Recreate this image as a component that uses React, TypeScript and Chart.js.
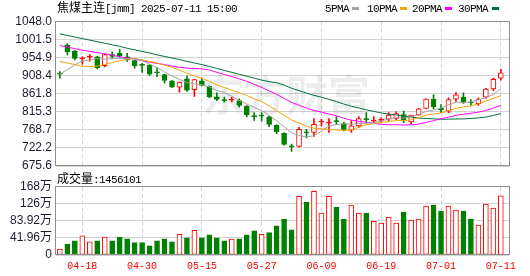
import React, { useEffect, useRef } from 'react';
import { Chart, registerables } from 'chart.js';

Chart.register(...registerables);

// ---------- data ----------
const dates = [
  '04-15', '04-16', '04-17', '04-18', '04-21', '04-22', '04-23', '04-24', '04-25', '04-28', '04-29', '04-30',
  '05-06', '05-07', '05-08', '05-09', '05-12', '05-13', '05-14', '05-15', '05-16', '05-19', '05-20', '05-21',
  '05-22', '05-23', '05-26', '05-27', '05-28', '05-29', '05-30',
  '06-03', '06-04', '06-05', '06-06', '06-09', '06-10', '06-11', '06-12', '06-13', '06-16', '06-17', '06-18',
  '06-19', '06-20', '06-23', '06-24', '06-25', '06-26', '06-27', '06-30',
  '07-01', '07-02', '07-03', '07-04', '07-07', '07-08', '07-09', '07-10', '07-11',
];

const opens = [
  912, 987, 972, 952, 956, 957, 934, 963, 966, 957, 947, 937, 936, 918, 911, 895, 879, 900, 872, 895,
  881, 854, 846, 845, 844, 830, 805, 804, 802, 781, 760, 727, 726, 763, 762, 789, 786, 792, 785, 768,
  779, 797, 791, 793, 796, 798, 808, 789, 807, 824, 848, 825, 817, 848, 853, 839, 836, 853, 874, 902,
];
const highs = [
  919, 991, 974, 957, 963, 958, 965, 970, 976, 966, 948, 940, 937, 928, 912, 896, 892, 908, 899, 902,
  882, 864, 853, 853, 849, 831, 813, 813, 804, 782, 761, 732, 775, 770, 798, 796, 798, 803, 789, 792,
  803, 813, 803, 800, 813, 815, 817, 807, 824, 849, 859, 834, 851, 865, 864, 847, 851, 876, 902, 925,
];
const lows = [
  902, 962, 949, 938, 946, 926, 931, 953, 955, 945, 928, 917, 909, 906, 889, 878, 866, 868, 855, 882,
  852, 844, 840, 841, 827, 802, 793, 792, 777, 759, 729, 713, 724, 748, 752, 779, 762, 783, 766, 762,
  775, 786, 786, 787, 792, 795, 787, 785, 806, 823, 823, 813, 813, 842, 837, 832, 832, 850, 870, 897,
];
const closes = [
  912, 970, 953, 953, 957, 929, 963, 958, 960, 949, 934, 935, 912, 916, 896, 879, 892, 871, 898, 883,
  854, 847, 844, 847, 832, 807, 803, 804, 783, 764, 731, 725, 770, 761, 783, 790, 788, 790, 770, 779,
  798, 795, 792, 794, 807, 811, 793, 807, 823, 848, 828, 820, 847, 859, 841, 838, 847, 874, 899, 916,
];

// volume in 万 (10k lots)
const volumes = [
  14.6, 26.8, 34.9, 47.0, 32.4, 34.9, 43.8, 34.9, 43.8, 39.7, 30.8, 30.8, 22.7, 34.9, 39.7, 32.4, 51.1, 42.2, 60.8, 42.2,
  49.5, 42.2, 34.9, 38.9, 39.7, 49.5, 59.2, 51.1, 55.1, 71.4, 88.4, 61.6, 144.4, 129.8, 156.5, 103.0, 144.4, 117.6, 88.4, 122.5,
  103.0, 103.0, 82.7, 78.7, 93.3, 78.7, 105.4, 86.0, 88.4, 120.0, 122.5, 107.9, 120.0, 110.3, 107.9, 88.4, 73.8, 124.9, 115.2, 145.61,
];

const ma5 = [
  913, 924, 936, 946, 949, 952.4, 951, 952, 953.4, 951.8, 952.8, 947.2, 938, 929.2, 918.6, 907.6, 899, 890.8, 887.2, 884.6,
  879.6, 870.6, 865.2, 855, 844.8, 835.4, 826.6, 818.6, 805.8, 792.2, 777, 761.4, 754.6, 750.2, 754, 765.8, 778.4, 782.4, 784.2, 783.4,
  785, 786.4, 786.8, 791.6, 797.2, 799.8, 799.4, 802.4, 808.2, 816.4, 819.8, 825.2, 833.2, 840.4, 839, 841, 846.4, 851.8, 859.8, 874.8,
];
const ma10 = [
  945, 941, 937, 933, 932, 933, 937, 942, 947, 950.4, 952.6, 949.1, 945, 941.3, 935.2, 930.2, 923.1, 914.4, 908.2, 901.6,
  893.6, 884.8, 878, 871.1, 864.7, 857.5, 848.6, 841.9, 830.4, 818.5, 806.2, 794, 786.6, 778, 773.1, 771.4, 769.9, 768.5, 767.2, 768.7,
  775.4, 782.4, 784.6, 787.9, 790.3, 792.4, 792.9, 794.6, 799.9, 806.8, 809.8, 812.3, 817.8, 824.3, 827.7, 830.4, 835.8, 842.5, 850.1, 856.9,
];
const ma20 = [
  986, 982, 978, 974, 971, 968, 965, 961, 957, 954, 951, 947, 943, 940, 937, 933, 930, 928, 927, 926,
  923.1, 917, 911.5, 906.2, 900, 893.9, 885.9, 878.2, 869.3, 860.1, 849.9, 839.4, 832.3, 824.6, 818.9, 814.5, 809.3, 805.2, 798.8, 793.6,
  790.8, 788.2, 785.6, 783, 781.7, 781.9, 781.4, 781.6, 783.6, 787.8, 792.6, 797.4, 801.2, 806.1, 809, 811.4, 814.4, 818.6, 825, 831.9,
];
const ma30 = [
  1016, 1012, 1008, 1004, 1000, 996, 992, 988, 984, 979, 975, 971, 967, 962, 958, 954, 950, 945, 941, 937,
  932, 927, 922, 917, 912, 907, 902, 897, 893, 890.2, 884.1, 876, 869.9, 863.5, 857.7, 853, 847.2, 841.6, 835.3, 829.6,
  825.1, 820.4, 816.4, 812.3, 809.4, 807.1, 803.8, 801.7, 799.2, 798, 797.1, 796.2, 796.3, 796.7, 797, 798.1, 799.5, 801.9, 805.7, 810.8,
];

const priceTicks = [675.6, 722.2, 768.7, 815.3, 861.8, 908.4, 954.9, 1001.5, 1048.0];
const volumeTicks = [0, 41.96, 83.92, 125.88, 167.84];
const volumeTickLabels = ['0', '41.96万', '83.92万', '126万', '168万'];
const dateTickIndex = [3, 11, 19, 27, 35, 43, 51, 59];

const titleName = '焦煤主连';
const titleInfo = '[jmm] 2025-07-11 15:00';
const volumeName = '成交量';
const volumeLatest = '1456101';
const legendNames = ['5PMA', '10PMA', '20PMA', '30PMA'];
const watermarkText = '东方财富';

// ---------- style ----------
const UP = '#ff0000';
const DOWN = '#008000';
const MA_COLORS = ['#a3a3a3', '#f7a400', '#ff00ff', '#00703a'];
const GRID = '#d2d2d2';
const FRAME = '#8e8e8e';
const MONO = '"Liberation Mono", "DejaVu Sans Mono", monospace';
const CJK = '"Noto Sans CJK SC", sans-serif';
const SANS = '"Liberation Sans", Arial, "Noto Sans CJK SC", sans-serif';
const X_MIN = -0.522;
const X_MAX = 60.097;

const isUp = (i: number) => closes[i] > opens[i];
const volUp = (i: number) => closes[i] >= opens[i];

const framePlugin = {
  id: 'frame',
  afterDraw(chart: any) {
    const { ctx, chartArea: a } = chart;
    ctx.save();
    ctx.strokeStyle = FRAME;
    ctx.lineWidth = 1;
    const l = Math.round(a.left) - 0.5;
    const t = Math.round(a.top) - 0.5;
    const r = Math.round(a.right) + 0.5;
    const b = Math.round(a.bottom) - 0.5;
    ctx.strokeRect(l, t, r - l, b - t);
    ctx.restore();
  },
};

const watermarkPlugin = {
  id: 'watermark',
  beforeDatasetsDraw(chart: any) {
    const { ctx } = chart;
    ctx.save();
    ctx.font = 'bold 42px "Noto Sans CJK SC"';
    ctx.fillStyle = 'rgba(0,0,0,0.07)';
    ctx.textAlign = 'center';
    ctx.textBaseline = 'middle';
    ctx.fillText(watermarkText, 286, 95);
    ctx.restore();
  },
};

const setDateTicks = (s: any) => {
  s.ticks = dateTickIndex.map((v) => ({ value: v }));
};

export default function App() {
  const priceRef = useRef<HTMLCanvasElement>(null);
  const volRef = useRef<HTMLCanvasElement>(null);

  useEffect(() => {
    const maData = [ma5, ma10, ma20, ma30];
    const lineSets = maData.map((arr, k) => ({
      type: 'line' as const,
      label: legendNames[k],
      data: arr.map((v, i) => ({ x: i, y: v })),
      borderColor: MA_COLORS[k],
      borderWidth: 1,
      pointRadius: 0,
      tension: 0,
      order: 0,
    }));

    const bodySet: any = {
      type: 'bar',
      label: 'body',
      data: opens.map((o, i) => ({ x: i, y: [o, closes[i]] })),
      backgroundColor: (c: any) => {
        const i = c.dataIndex;
        if (!isUp(i)) return DOWN;
        return Math.abs(closes[i] - opens[i]) < 3 ? UP : '#ffffff';
      },
      borderColor: (c: any) => (isUp(c.dataIndex) ? UP : DOWN),
      borderWidth: 1,
      borderSkipped: false,
      barThickness: 5,
      minBarLength: 1,
      grouped: false,
      order: 1,
    };
    const wickSet: any = {
      type: 'bar',
      label: 'wick',
      data: lows.map((l, i) => ({ x: i, y: [l, highs[i]] })),
      backgroundColor: (c: any) => (isUp(c.dataIndex) ? UP : DOWN),
      borderWidth: 0,
      barThickness: 1,
      grouped: false,
      order: 2,
    };

    const priceChart = new Chart(priceRef.current as HTMLCanvasElement, {
      type: 'bar',
      data: { datasets: [...lineSets, bodySet, wickSet] as any },
      options: {
        responsive: false,
        animation: false,
        events: [],
        layout: { padding: { top: 21.5, bottom: 110, left: 0, right: 21 } },
        plugins: { legend: { display: false }, tooltip: { enabled: false } },
        scales: {
          x: {
            type: 'linear',
            min: X_MIN,
            max: X_MAX,
            offset: false,
            afterBuildTicks: setDateTicks,
            afterFit: (s: any) => {
              s.height = 0;
            },
            ticks: { display: false },
            grid: { color: GRID, drawTicks: false, offset: false, lineWidth: 1 },
            border: { display: false, dash: [4, 3] },
          },
          y: {
            type: 'linear',
            min: 675.6,
            max: 1048.0,
            afterBuildTicks: (s: any) => {
              s.ticks = priceTicks.map((v) => ({ value: v }));
            },
            afterFit: (s: any) => {
              s.width = 56;
            },
            ticks: {
              callback: (v: any) => Number(v).toFixed(1),
              color: '#1c1c30',
              font: { family: SANS, size: 12 },
              padding: 4,
              autoSkip: false,
            },
            grid: { color: GRID, drawTicks: false, lineWidth: 1 },
            border: { display: false },
          },
        },
      } as any,
      plugins: [watermarkPlugin, framePlugin],
    });

    const volSet: any = {
      type: 'bar',
      label: 'volume',
      data: volumes.map((v, i) => ({ x: i, y: v })),
      backgroundColor: (c: any) => (volUp(c.dataIndex) ? '#ffffff' : DOWN),
      borderColor: (c: any) => (volUp(c.dataIndex) ? UP : DOWN),
      borderWidth: 1,
      borderSkipped: false,
      barThickness: 5,
      grouped: false,
    };

    const volChart = new Chart(volRef.current as HTMLCanvasElement, {
      type: 'bar',
      data: { datasets: [volSet] },
      options: {
        responsive: false,
        animation: false,
        events: [],
        layout: { padding: { top: 186.7, bottom: 0, left: 0, right: 21 } },
        plugins: { legend: { display: false }, tooltip: { enabled: false } },
        scales: {
          x: {
            type: 'linear',
            min: X_MIN,
            max: X_MAX,
            offset: false,
            afterBuildTicks: setDateTicks,
            afterFit: (s: any) => {
              s.height = 21;
            },
            ticks: {
              callback: (v: any) => dates[Number(v)],
              color: UP,
              font: { family: MONO, size: 10 },
              padding: 5,
              maxRotation: 0,
              autoSkip: false,
            },
            grid: { color: GRID, drawTicks: false, offset: false, lineWidth: 1 },
            border: { display: false, dash: [4, 3] },
          },
          y: {
            type: 'linear',
            min: 0,
            max: 167.84,
            afterBuildTicks: (s: any) => {
              s.ticks = volumeTicks.map((v) => ({ value: v }));
            },
            afterFit: (s: any) => {
              s.width = 56;
            },
            ticks: {
              callback: (_v: any, i: number) => volumeTickLabels[i],
              color: '#1c1c30',
              font: { family: SANS, size: 12 },
              padding: 4,
              autoSkip: false,
            },
            grid: { color: GRID, drawTicks: false, lineWidth: 1 },
            border: { display: false },
          },
        },
      } as any,
      plugins: [framePlugin],
    });

    return () => {
      priceChart.destroy();
      volChart.destroy();
    };
  }, []);

  const mono: React.CSSProperties = {
    fontFamily: MONO,
    fontSize: 11,
    letterSpacing: '-0.6px',
  };
  const legendLeft = [325, 367, 412, 458];
  const markerLeft = [352, 400, 445, 492];

  return (
    <div
      style={{
        position: 'absolute',
        left: 0,
        top: 0,
        width: 530,
        height: 276,
        background: '#ffffff',
        overflow: 'hidden',
      }}
    >
      <canvas ref={priceRef} width={530} height={276} style={{ position: 'absolute', left: 0, top: 0, width: 530, height: 276 }} />
      <canvas ref={volRef} width={530} height={276} style={{ position: 'absolute', left: 0, top: 0, width: 530, height: 276 }} />
      <div style={{ position: 'absolute', left: 57, top: 0, lineHeight: '14px', whiteSpace: 'nowrap', color: '#000' }}>
        <span style={{ fontFamily: CJK, fontSize: 12 }}>{titleName}</span>
        <span style={mono}>{titleInfo}</span>
      </div>
      {legendNames.map((n, k) => (
        <React.Fragment key={n}>
          <div style={{ position: 'absolute', left: legendLeft[k], top: 0, lineHeight: '14px', whiteSpace: 'nowrap', color: '#000', ...mono }}>
            <span style={{ fontFamily: CJK, fontSize: 12, letterSpacing: 0 }}>{'\u200b'}</span>
            {n}
          </div>
          <div style={{ position: 'absolute', left: markerLeft[k], top: 7, width: 7, height: 3, background: MA_COLORS[k] }} />
        </React.Fragment>
      ))}
      <div style={{ position: 'absolute', left: 57, top: 171, lineHeight: '14px', whiteSpace: 'nowrap', color: '#000' }}>
        <span style={{ fontFamily: CJK, fontSize: 12 }}>{volumeName}</span>
        <span style={mono}>{':' + volumeLatest}</span>
      </div>
    </div>
  );
}
